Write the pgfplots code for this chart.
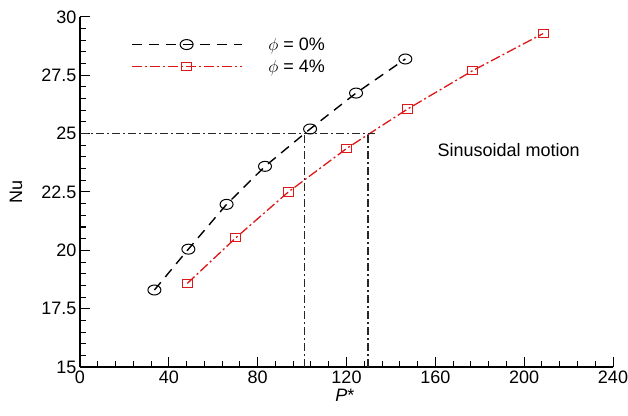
\documentclass[border=0pt]{standalone}
\usepackage{pgfplots}
\pgfplotsset{compat=1.18}
\usepackage{fontspec}
\setmainfont{Liberation Sans}
\definecolor{myred}{RGB}{222,24,24}
\begin{document}
\begin{tikzpicture}
\useasboundingbox (-80pt,-48pt) rectangle (548pt,367pt);
\begin{axis}[
  at={(0pt,0pt)}, anchor=south west,
  scale only axis,
  width=533pt, height=350pt,
  xmin=0, xmax=240, ymin=15, ymax=30,
  axis x line*=bottom, axis y line*=left,
  axis line style={line width=1.5pt},
  xtick={0,40,...,240}, ytick={15,17.5,...,30},
  minor x tick num=4, minor y tick num=4,
  tick align=inside,
  major tick length=10pt, minor tick length=6pt,
  tick style={line width=1pt, black},
  /pgf/number format/assume math mode=true,
  yticklabel style={/pgf/number format/fixed,/pgf/number format/precision=1},
  ticklabel style={font=\fontsize{18}{21}\selectfont},
  legend style={at={(axis cs:21.5,29.3)}, anchor=north west, draw=none, fill=none,
    font=\fontsize{18}{21}\selectfont, row sep=4pt, cells={anchor=west}},
  legend image code/.code={
    \draw[mark repeat=2,mark phase=2,#1] plot coordinates {(0pt,0pt) (55pt,0pt) (110pt,0pt)};
  },
  clip=false,
]
\addplot[black, line width=1.4pt, dash pattern=on 10pt off 7pt,
  mark=o, mark size=5pt, mark options={solid, xscale=1.3, line width=1pt}]
  coordinates {(33.5,18.3) (48.8,20.05) (66,21.97) (83.3,23.6) (103.6,25.2) (124.3,26.74) (146.5,28.2)};
\addlegendentry{\hspace*{24pt}$\phi$ = 0\%}
\addplot[myred, line width=1.3pt, dash pattern=on 10pt off 3pt on 2pt off 3pt,
  mark=square, mark size=5pt, mark options={solid, yscale=0.85, line width=1pt}]
  coordinates {(48.3,18.58) (70.2,20.54) (93.8,22.5) (120.1,24.37) (147.4,26.05) (176.8,27.70) (208.5,29.29)};
\addlegendentry{\hspace*{24pt}$\phi$ = 4\%}
\addplot[black!85, line width=1.2pt, dash pattern=on 8pt off 3pt on 2pt off 3pt, forget plot]
  coordinates {(0,25) (133,25)};
\addplot[black!85, line width=1.2pt, dash pattern=on 8pt off 3pt on 2pt off 3pt, forget plot]
  coordinates {(101,15) (101,25)};
\addplot[black!85, line width=1.2pt, dash pattern=on 8pt off 3pt on 2pt off 3pt, forget plot]
  coordinates {(129.7,15) (129.7,25)};
\node[font=\fontsize{18}{21}\selectfont] at (axis cs:193,24.3) {Sinusoidal motion};
\node[font=\fontsize{18}{21}\selectfont, rotate=90] at ([xshift=-64pt]rel axis cs:0,0.5) {Nu};
\node[font=\fontsize{18}{21}\selectfont] at ([yshift=-28pt]rel axis cs:0.497,0) {\textit{P}*};
\end{axis}
\end{tikzpicture}
\end{document}
